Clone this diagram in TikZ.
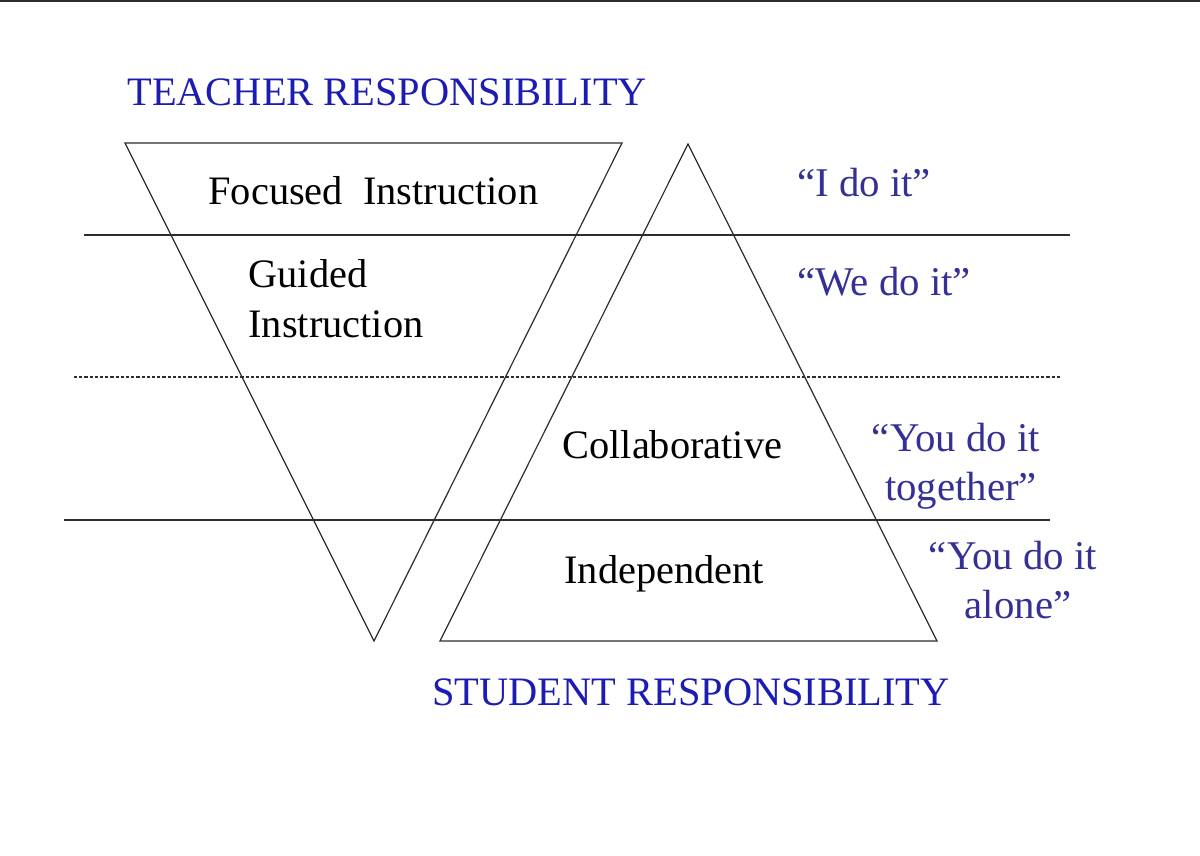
\documentclass[tikz,border=0pt]{standalone}
\usepackage{fontspec}
\setmainfont{Liberation Serif}
\definecolor{headblue}{RGB}{28,28,178}
\definecolor{quoteblue}{RGB}{52,48,150}
\definecolor{linegray}{RGB}{45,45,45}
\tikzset{
  band/.style={draw=linegray, line width=0.6pt},
  stage/.style={inner sep=0pt, anchor=base west, font=\fontsize{20.2}{25}\selectfont},
  heading/.style={inner sep=0pt, anchor=base west, text=headblue, font=\fontsize{20.2}{24}\selectfont},
  saying/.style={inner sep=0pt, text=quoteblue, font=\fontsize{20.4}{24.5}\selectfont, align=center}
}
\begin{document}
\begin{tikzpicture}[x=0.5pt, y=-0.5pt]
            \useasboundingbox (0, 0) rectangle (1200, 856);
            \fill[white] (0, 0) rectangle (1200, 856);
            \draw[linegray, line width=1pt] (0, 1) -- (1200, 1);
            % the two triangles
            \draw[band] (125, 143) -- (622, 143) -- (374, 641) -- cycle;
            \draw[band] (688, 144) -- (937, 641) -- (440, 641) -- cycle;
            % the stage lines
            \draw[band] (84, 235) -- (1070, 235);
            \draw[band, dash pattern=on 1.6pt off 1pt] (74, 377) -- (1060, 377);
            \draw[band] (64, 520) -- (1050, 520);
            % headings
            \node[heading] (teacher) at (127, 105) {TEACHER RESPONSIBILITY};
            \node[heading] (student) at (432, 705) {STUDENT RESPONSIBILITY};
            % stages
            \node[stage] (focused) at (208, 205) {Focused\ \ Instruction};
            \node[stage] (guided) at (248, 287) {Guided};
            \node[stage] (guided2) at (248, 337) {Instruction};
            \node[stage] (collab) at (562, 458) {Collaborative};
            \node[stage] (indep) at (564, 583) {Independent};
            % sayings
            \node[saying, anchor=base west] (ido) at (797, 197) {“I do it”};
            \node[saying, anchor=base west] (wedo) at (797, 295) {“We do it”};
            \node[saying, anchor=base] (youdo) at (956, 500) {“You do it\\ \ together”};
            \node[saying, anchor=base] (alone) at (1013, 618) {“You do it\\ \ alone”};
        \end{tikzpicture}
\end{document}
